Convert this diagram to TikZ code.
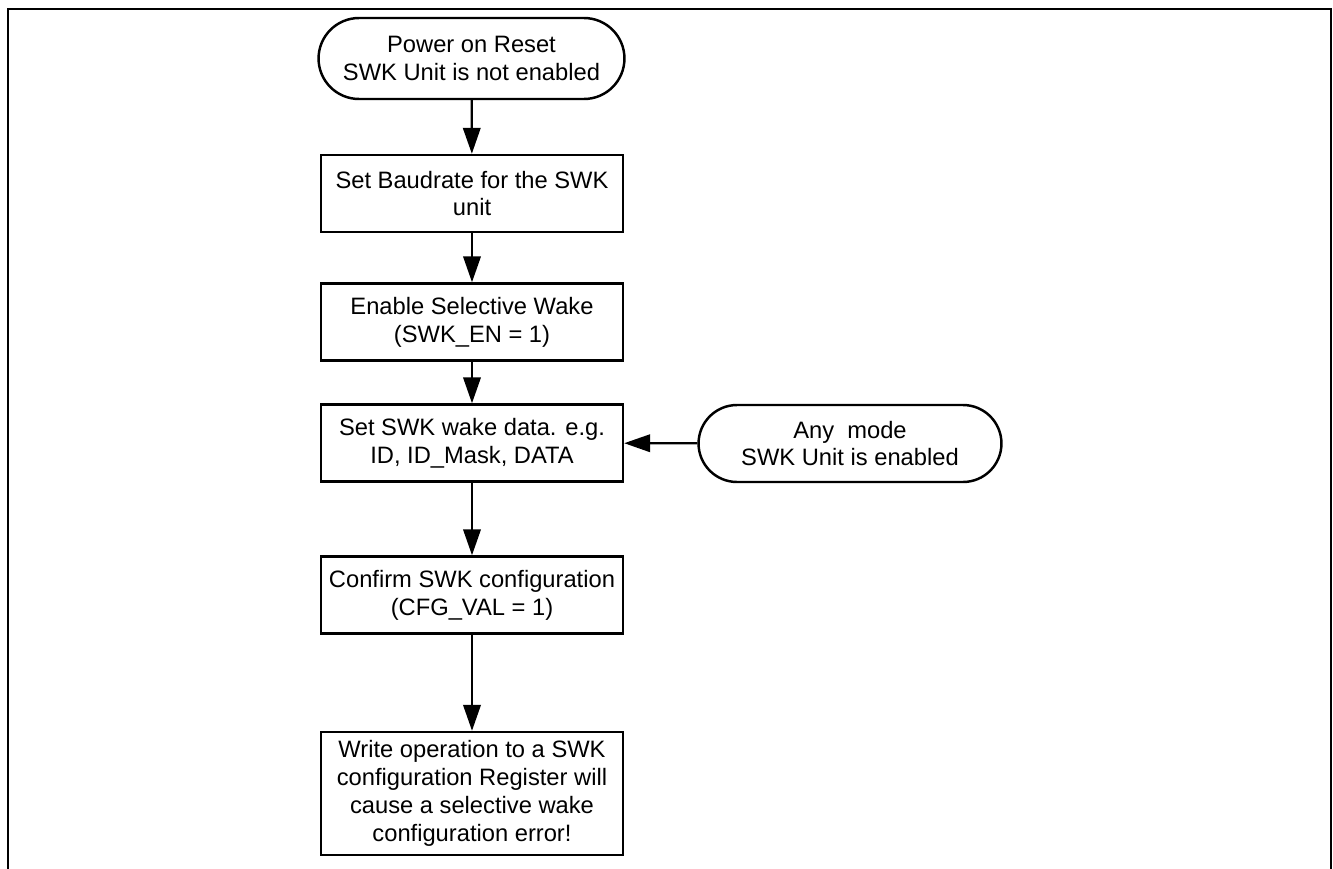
\documentclass[tikz,border=0pt]{standalone}
\usepackage{fontspec}
\setmainfont{Liberation Sans}
\usepackage{tikz}
\usetikzlibrary{arrows.meta,shapes.misc}

\tikzset{
  stepbox/.style={draw, line width=1.4pt, minimum width=6.04cm, minimum height=1.54cm,
    align=center, inner sep=2pt, font=\fontsize{13.5}{15.9}\selectfont},
  terminal/.style={stepbox, rounded rectangle, rounded rectangle arc length=180,
    minimum width=6.26cm, minimum height=1.62cm},
  flow/.style={line width=1.3pt, -{Triangle[length=0.52cm,width=0.35cm]}},
}

\begin{document}
\begin{tikzpicture}[x=0.02cm, y=-0.02cm]
  \useasboundingbox (0,0) rectangle (1333,869);

  % Frame (open at the bottom)
  \draw[line width=1.2pt] (8,869) -- (8,9) -- (1331,9) -- (1331,869);

  % Main column
  \node[terminal] (start) at (471.5,58.5) {Power on Reset\\SWK Unit is not enabled};
  \node[stepbox] (baud) at (472,193.5) {Set Baudrate for the SWK\\unit};
  \node[stepbox] (enable) at (472,322) {Enable Selective Wake\\(SWK\_EN = 1)};
  \node[stepbox] (wake) at (472,443) {Set SWK wake data. e.g.\\ID, ID\_Mask, DATA};
  \node[stepbox] (confirm) at (472,595) {Confirm SWK configuration\\(CFG\_VAL = 1)};
  \node[stepbox, minimum height=2.46cm] (writeop) at (472,793.5)
    {Write operation to a SWK\\configuration Register will\\cause a selective wake\\configuration error!};

  % Side entry
  \node[terminal, minimum width=6.2cm, minimum height=1.54cm] (anymode) at (850,443.5)
    {Any~~mode\\SWK Unit is enabled};

  % Arrows
  \draw[flow] (start) -- (baud);
  \draw[flow] (baud) -- (enable);
  \draw[flow] (enable) -- (wake);
  \draw[flow] (wake) -- (confirm);
  \draw[flow] (confirm) -- (writeop);
  \draw[flow] (anymode) -- (wake);
\end{tikzpicture}
\end{document}
